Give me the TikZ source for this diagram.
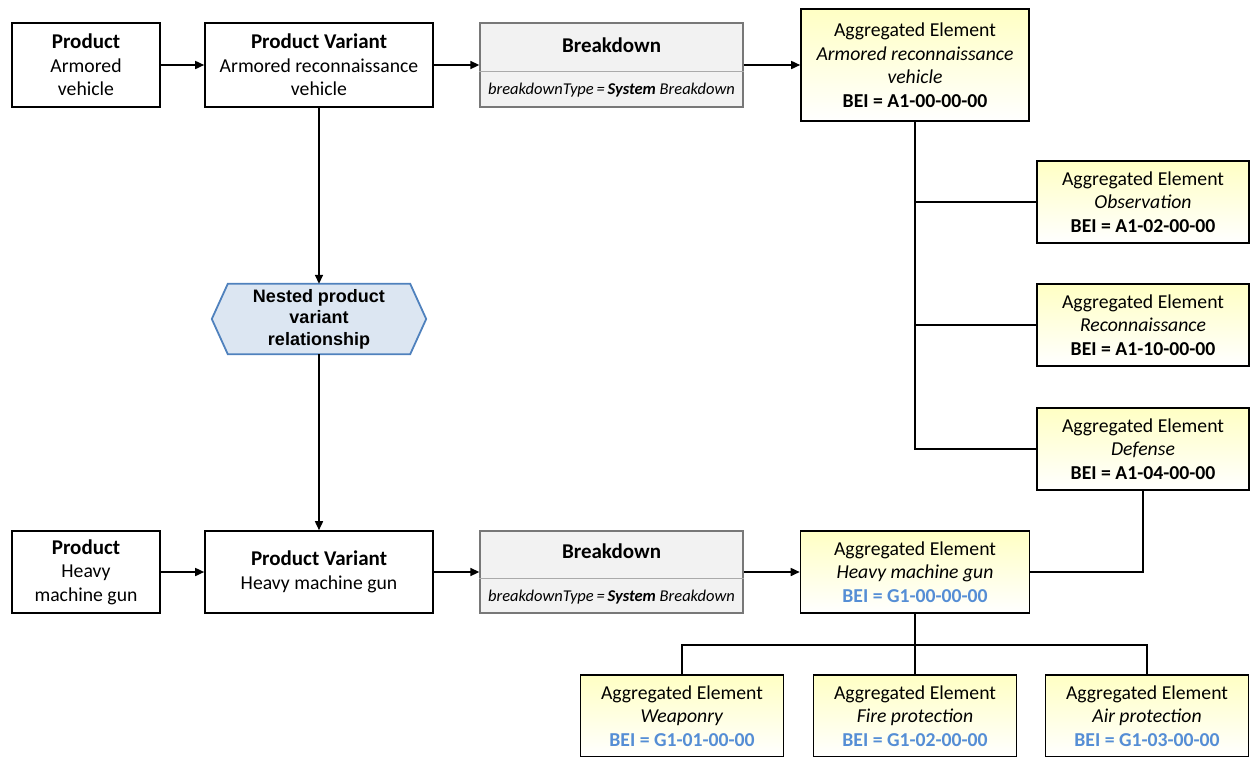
\documentclass[tikz,border=0pt]{standalone}
\usepackage{fontspec}
\setmainfont{Carlito}
\newfontfamily\arialfont{Liberation Sans}
\usetikzlibrary{arrows.meta,backgrounds}
\definecolor{bei}{RGB}{85,142,213}
\definecolor{hexfill}{RGB}{220,230,242}
\definecolor{hexline}{RGB}{79,129,189}
\definecolor{bdfill}{RGB}{242,242,242}
\definecolor{bdline}{RGB}{120,120,120}
\definecolor{bddiv}{RGB}{170,170,170}
\definecolor{aetop}{RGB}{255,255,196}
\newcommand{\ttl}[1]{{\fontsize{21}{24}\selectfont\bfseries #1}}
\begin{document}
\begin{tikzpicture}[x=1pt,y=-1pt,
  txt/.style={font=\fontsize{19.7}{23.5}\selectfont, align=center, inner sep=0pt},
  plain/.style={txt, draw, line width=1.6pt, fill=white},
  bdbox/.style={draw=bdline, line width=1.3pt, fill=bdfill, inner sep=0pt},
  aebox/.style={txt, draw, line width=1.6pt, top color=aetop, bottom color=white},
  link/.style={line width=1.6pt},
  flow/.style={link, -{Triangle[length=9pt,width=8pt]}},
  hexshape/.style={draw=hexline, line width=1.8pt, fill=hexfill, line join=miter},
]
\useasboundingbox (0,0) rectangle (1250,756);

% --- upper row: armored vehicle ---
\node[plain, minimum width=148pt, minimum height=84pt] (prod1) at (86,65)
  {\ttl{Product}\\Armored\\vehicle};
\node[plain, minimum width=228pt, minimum height=84pt] (pv1) at (319,65)
  {\ttl{Product Variant}\\Armored reconnaissance\\vehicle};
\node[bdbox, minimum width=263pt, minimum height=84pt] (bd1) at (611.5,65) {};
\draw[bddiv, line width=1pt] ([yshift=-49pt]bd1.north west) -- ([yshift=-49pt]bd1.north east);
\node[txt, font=\fontsize{21}{24}\selectfont\bfseries] (bd1t) at ([yshift=-23pt]bd1.north) {Breakdown};
\node[txt, font=\fontsize{16.5}{19}\selectfont\itshape] (bd1s) at ([yshift=17.5pt]bd1.south)
  {breakdownType\,=\,\textbf{System} Breakdown};
\node[aebox, minimum width=228pt, minimum height=112pt] (ae1) at (915,65)
  {Aggregated Element\\\textit{Armored reconnaissance}\\\textit{vehicle}\\\textbf{BEI = A1-00-00-00}};

% --- system breakdown children ---
\node[aebox, minimum width=212pt, minimum height=82pt] (obs) at (1143,202)
  {Aggregated Element\\\textit{Observation}\\\textbf{BEI = A1-02-00-00}};
\node[aebox, minimum width=212pt, minimum height=82pt] (rec) at (1143,325)
  {Aggregated Element\\\textit{Reconnaissance}\\\textbf{BEI = A1-10-00-00}};
\node[aebox, minimum width=212pt, minimum height=82pt] (def) at (1143,449)
  {Aggregated Element\\\textit{Defense}\\\textbf{BEI = A1-04-00-00}};

% --- nested relationship ---
\node[txt, font=\arialfont\bfseries\fontsize{18}{21.5}\selectfont, minimum width=214pt, minimum height=70pt] (hex) at (319,319)
  {Nested product\\variant\\relationship};
\begin{scope}[on background layer]
  \draw[hexshape] (hex.west) -- ([xshift=16pt]hex.north west) -- ([xshift=-16pt]hex.north east)
    -- (hex.east) -- ([xshift=-16pt]hex.south east) -- ([xshift=16pt]hex.south west) -- cycle;
\end{scope}

% --- lower row: heavy machine gun ---
\node[plain, minimum width=148pt, minimum height=82pt] (prod2) at (86,572)
  {\ttl{Product}\\Heavy\\machine gun};
\node[plain, minimum width=228pt, minimum height=82pt] (pv2) at (319,572)
  {\ttl{Product Variant}\\Heavy machine gun};
\node[bdbox, minimum width=263pt, minimum height=82pt] (bd2) at (611.5,572) {};
\draw[bddiv, line width=1pt] ([yshift=-48pt]bd2.north west) -- ([yshift=-48pt]bd2.north east);
\node[txt, font=\fontsize{21}{24}\selectfont\bfseries] (bd2t) at ([yshift=-21pt]bd2.north) {Breakdown};
\node[txt, font=\fontsize{16.5}{19}\selectfont\itshape] (bd2s) at ([yshift=17pt]bd2.south)
  {breakdownType\,=\,\textbf{System} Breakdown};
\node[aebox, minimum width=229pt, minimum height=82pt] (aeg) at (915,572)
  {Aggregated Element\\\textit{Heavy machine gun}\\\textcolor{bei}{\textbf{BEI = G1-00-00-00}}};

% --- gun breakdown children ---
\node[aebox, minimum width=203pt, minimum height=82pt] (weap) at (682,716)
  {Aggregated Element\\\textit{Weaponry}\\\textcolor{bei}{\textbf{BEI = G1-01-00-00}}};
\node[aebox, minimum width=203pt, minimum height=82pt] (fire) at (915,716)
  {Aggregated Element\\\textit{Fire protection}\\\textcolor{bei}{\textbf{BEI = G1-02-00-00}}};
\node[aebox, minimum width=203pt, minimum height=82pt] (air) at (1147,716)
  {Aggregated Element\\\textit{Air protection}\\\textcolor{bei}{\textbf{BEI = G1-03-00-00}}};

% --- flow arrows ---
\draw[flow] (prod1) -- (pv1);
\draw[flow] (pv1) -- (bd1);
\draw[flow] (bd1) -- (ae1);
\draw[flow] (pv1.south) -- (hex.north);
\draw[flow] (hex.south) -- (pv2.north);
\draw[flow] (prod2) -- (pv2);
\draw[flow] (pv2) -- (bd2);
\draw[flow] (bd2) -- (aeg);

% --- tree connectors ---
\draw[link] (ae1.south) -- (ae1.south |- def.west) -- (def.west);
\draw[link] (ae1.south |- obs.west) -- (obs.west);
\draw[link] (ae1.south |- rec.west) -- (rec.west);
\draw[link] (aeg.east) -| (def.south);
\coordinate (hub) at (915,645);
\draw[link] (aeg.south) -- (hub);
\draw[link] (weap.north) |- (hub) -| (air.north);
\draw[link] (hub) -- (fire.north);
\end{tikzpicture}
\end{document}
